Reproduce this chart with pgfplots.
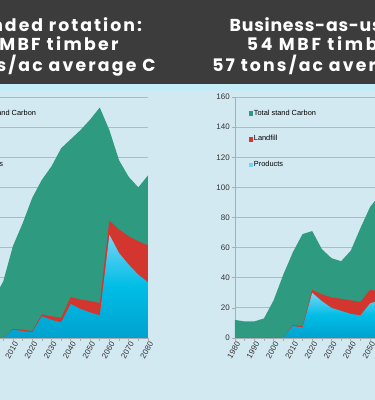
\documentclass[border=0pt]{standalone}
\usepackage{pgfplots}
\pgfplotsset{compat=1.18}
\usepackage{fontspec}
\setmainfont{Liberation Sans}
\newfontfamily\headfont{Poppins}
\definecolor{hdr}{HTML}{3C3C3C}
\definecolor{strip}{HTML}{C4ECF7}
\definecolor{bg}{HTML}{D3E9F2}
\definecolor{cgreen}{HTML}{2E9A80}
\definecolor{cred}{HTML}{D2362E}
\definecolor{cblueA}{HTML}{74D4F4}
\definecolor{cblueB}{HTML}{00BDE6}
\definecolor{cblueC}{HTML}{00A2CF}
\definecolor{axisgray}{HTML}{A6AFB3}
\definecolor{gridgray}{HTML}{B3BABD}
\definecolor{lbl}{HTML}{333333}

% Extended rotation
\pgfplotstableread{
year total landtop prod
1980 10 0 0
1985 9 0 0
1990 8 0 0
1995 10 0 0
2000 26 0 0
2005 37.6 0 0
2010 61 6 5.5
2015 76 5.5 4.6
2020 93 4.6 3.8
2025 105 15.7 14.4
2030 114 14.4 12
2035 126 13.5 10.4
2040 132 27.2 22.6
2045 138 25.5 19.3
2050 145 24.6 17
2055 153 23.2 15
2060 138 77.9 68.6
2065 118 72 56.4
2070 107 67.5 48.7
2075 100 64.2 42
2080 108 61.5 37
}\ext

% Business as usual
\pgfplotstableread{
year total landtop prod
1980 12 0 0
1985 11 0 0
1990 11 0 0
1995 13 0 0
2000 25 0 0
2005 42 0 0
2010 57 8.5 8
2015 69 8 7
2020 71 32 30
2025 59 29 24.5
2030 53 27 20
2035 51 26 18
2040 58 25 16
2045 73 24 15
2050 87 32 23
2055 95 31 25
2060 100 30 23
2065 92 29 21
2070 82 28 19
2075 74 27 18
2080 78 26 17
}\bau

\pgfplotsset{chart/.style={
  width=193pt,height=241pt,scale only axis,
  xmin=1980,xmax=2080,ymin=0,ymax=160,
  axis x line*=bottom, axis y line*=left,
  axis line style={draw=axisgray, line width=0.8pt},
  xtick={1980,1990,...,2080}, minor xtick={1985,1995,...,2075},
  ytick={0,20,...,160},
  tick align=outside, major tick length=3pt, minor tick length=3pt,
  tick style={draw=axisgray, line width=0.6pt},
  ymajorgrids, grid style={draw=gridgray, line width=0.8pt},
  /pgf/number format/1000 sep={},
  /pgf/number format/assume math mode=true,
  x tick label style={rotate=60, anchor=north east, font=\fontsize{8}{9}\selectfont, text=lbl, inner sep=0.5pt, xshift=1pt},
  y tick label style={font=\fontsize{8}{9}\selectfont, text=lbl, inner sep=2pt},
  legend style={at={(0.072,0.952)}, anchor=north west, draw=none, fill=none,
    font=\fontsize{7.4}{8}\selectfont, row sep=17pt, inner sep=0pt,
    nodes={inner sep=1pt, text=black}},
  legend cell align=left,
}}

\newcommand\hd[1]{\headfont\bfseries\fontsize{17.3}{20}\selectfont\addfontfeature{LetterSpace=#1}}

\begin{document}
\begin{tikzpicture}[x=1pt,y=1pt]
\path[use as bounding box] (0,0) rectangle (375,400);
\clip (0,0) rectangle (375,400);
\fill[bg] (0,0) rectangle (375,400);
\fill[strip] (0,309) rectangle (375,316);
\fill[hdr] (0,316) rectangle (375,400);

\begin{axis}[chart, at={(-45pt,62pt)}, anchor=south west]
\addlegendimage{legend image code/.code={\fill[cgreen] (0pt,-1.7pt) rectangle (3.4pt,1.7pt);}}\addlegendentry{Total stand Carbon}
\addlegendimage{legend image code/.code={\fill[cred] (0pt,-1.7pt) rectangle (3.4pt,1.7pt);}}\addlegendentry{Landfill}
\addlegendimage{legend image code/.code={\fill[cblueA] (0pt,-1.7pt) rectangle (3.4pt,1.7pt);}}\addlegendentry{Products}
\addplot[fill=cgreen, draw=none, forget plot] table[x=year,y=total]{\ext} \closedcycle;
\addplot[fill=cred, draw=none, forget plot] table[x=year,y=landtop]{\ext} \closedcycle;
\addplot[draw=none, top color=cblueA, bottom color=cblueC, middle color=cblueB, forget plot] table[x=year,y=prod]{\ext} \closedcycle;
\end{axis}

\begin{axis}[chart, at={(235pt,62pt)}, anchor=south west]
\addlegendimage{legend image code/.code={\fill[cgreen] (0pt,-1.7pt) rectangle (3.4pt,1.7pt);}}\addlegendentry{Total stand Carbon}
\addlegendimage{legend image code/.code={\fill[cred] (0pt,-1.7pt) rectangle (3.4pt,1.7pt);}}\addlegendentry{Landfill}
\addlegendimage{legend image code/.code={\fill[cblueA] (0pt,-1.7pt) rectangle (3.4pt,1.7pt);}}\addlegendentry{Products}
\addplot[fill=cgreen, draw=none, forget plot] table[x=year,y=total]{\bau} \closedcycle;
\addplot[fill=cred, draw=none, forget plot] table[x=year,y=landtop]{\bau} \closedcycle;
\addplot[draw=none, top color=cblueA, bottom color=cblueC, middle color=cblueB, forget plot] table[x=year,y=prod]{\bau} \closedcycle;
\end{axis}

\begin{scope}[every node/.style={anchor=base, text=white, inner sep=0pt}]
\node[font=\hd{11.7}] at (44,368) {Extended rotation:};
\node[font=\hd{13.5}] at (44,349) {42 MBF timber};
\node[font=\hd{12.5}] at (44,328) {97 tons/ac average C};
\node[font=\hd{4.4}] at (324,368) {Business-as-usual:};
\node[font=\hd{15.5}] at (324,349) {54 MBF timber};
\node[font=\hd{12.5}] at (324,328) {57 tons/ac average C};
\end{scope}
\end{tikzpicture}
\end{document}
